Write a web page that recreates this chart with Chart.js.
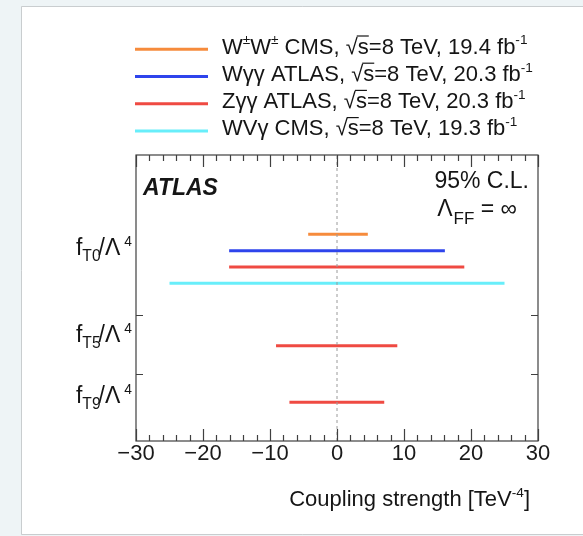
<!DOCTYPE html>
<html><head><meta charset="utf-8">
<script src="https://cdn.jsdelivr.net/npm/chart.js@4/dist/chart.umd.min.js"></script>
<style>html,body{margin:0;padding:0;background:#eef4f6;overflow:hidden}</style>
</head><body>
<canvas id="c" width="583" height="536"></canvas>
<script>
// ---------------- DATA ----------------
const xMin = -30, xMax = 30;
const xTickStep = 10, xMinorStep = 2;
const operatorSubs = ['T0', 'T5', 'T9'];          // f_{T0}/Λ^4 ...
const operatorPower = '4';
const seriesProcess = ['W±W±', 'Wγγ', 'Zγγ', 'WVγ'];
const seriesExperiment = ['CMS', 'ATLAS', 'ATLAS', 'CMS'];
const seriesEnergy = ['8', '8', '8', '8'];
const seriesLumi = ['19.4', '20.3', '20.3', '19.3'];
// 95% CL limits per operator (T0, T5, T9), TeV^-4
const wwLower  = [-4.3, null, null],  wwUpper  = [4.6, null, null];
const wyyLower = [-16.1, null, null], wyyUpper = [16.1, null, null];
const zyyLower = [-16.1, -9.1, -7.1], zyyUpper = [19.0, 9.0, 7.05];
const wvyLower = [-25.0, null, null], wvyUpper = [25.0, null, null];
const axisTitle = 'Coupling strength [TeV';
const axisTitlePower = '-4';
const clText = '95% C.L.';

// ---------------- LAYOUT / STYLE ----------------
const lowers = [wwLower, wyyLower, zyyLower, wvyLower];
const uppers = [wwUpper, wyyUpper, zyyUpper, wvyUpper];
const colors = ['#f68b3c', '#2e44ec', '#ef4a42', '#68eefa'];
const rowBase = [2.53, 1.48, 0.53];     // vertical slot of each operator row (y-scale units)
const rowStep = 0.275;
const labelY = [3.01, 1.55, 0.52];
const yMin = -0.121, yMax = 4.689;
const FONT = '"Liberation Sans", Arial, Helvetica, sans-serif';
const TXT = '#151515';

const datasets = [];
operatorSubs.forEach((op, oi) => {
  const present = [];
  lowers.forEach((lo, si) => { if (lo[oi] !== null) present.push(si); });
  present.forEach((si, k) => {
    const y = rowBase[oi] + (present.length - 1 - k) * rowStep;
    datasets.push({
      data: [{x: lowers[si][oi], y}, {x: uppers[si][oi], y}],
      borderColor: colors[si], borderWidth: 3, borderCapStyle: 'butt',
      pointRadius: 0, showLine: true, order: 1
    });
  });
});
datasets.push({
  data: [{x: 0, y: yMin}, {x: 0, y: yMax}],
  borderColor: '#9a9a9a', borderWidth: 1, borderDash: [3, 3],
  pointRadius: 0, showLine: true, order: 0
});

function fnt(size, style) { return (style || '') + ' ' + size + 'px ' + FONT; }
function drawRuns(ctx, runs, x, y, size, align, style) {
  const items = runs.map(r => {
    const s = size * (r.k || ((r.sup || r.sub) ? 0.62 : 1));
    ctx.font = fnt(s, style);
    return {r, s, w: ctx.measureText(r.t).width + (r.dx || 0)};
  });
  const total = items.reduce((a, b) => a + b.w, 0);
  let cx = align === 'right' ? x - total : x;
  ctx.textBaseline = 'alphabetic'; ctx.textAlign = 'left';
  for (const it of items) {
    const r = it.r;
    ctx.font = fnt(it.s, style);
    const dy = r.dy !== undefined ? r.dy : (r.sup ? -size * 0.42 : r.sub ? size * 0.24 : 0);
    ctx.fillText(r.t, cx + (r.pre || 0), y + dy);
    if (r.over) {
      ctx.save(); ctx.strokeStyle = ctx.fillStyle; ctx.lineWidth = 1.2;
      ctx.beginPath(); ctx.moveTo(cx - 1, y - size * 0.8); ctx.lineTo(cx + it.w, y - size * 0.8); ctx.stroke();
      ctx.restore();
    }
    cx += it.w;
  }
}
function processRuns(p) {
  const out = [];
  for (const ch of p) out.push(ch === '±' ? {t: ch, sup: true} : {t: ch});
  return out;
}

const decor = {
  id: 'decor',
  beforeDraw(chart) {
    const {ctx, width, height} = chart;
    ctx.save();
    ctx.fillStyle = '#eef4f6'; ctx.fillRect(0, 0, width, height);
    ctx.fillStyle = '#ffffff'; ctx.fillRect(22, 7, width - 22, height - 9);
    ctx.strokeStyle = '#c9cdcf'; ctx.lineWidth = 1;
    ctx.beginPath();
    ctx.moveTo(21.5, height - 1.5); ctx.lineTo(21.5, 6.5); ctx.lineTo(width, 6.5);
    ctx.moveTo(21.5, height - 1.5); ctx.lineTo(width, height - 1.5);
    ctx.stroke();
    ctx.restore();
  },
  afterDraw(chart) {
    const {ctx} = chart;
    const {left, right, top, bottom} = chart.chartArea;
    const xs = chart.scales.x, ys = chart.scales.y;
    ctx.save();
    // frame
    ctx.strokeStyle = '#404040'; ctx.lineWidth = 1.2;
    ctx.strokeRect(left, top, right - left, bottom - top);
    // x ticks (inward, bottom and top)
    ctx.beginPath();
    for (let v = xMin; v <= xMax + 1e-9; v += xMinorStep) {
      const px = Math.round(xs.getPixelForValue(v)) + 0.5;
      const L = (Math.abs(v % xTickStep) < 1e-9) ? 12 : 6;
      ctx.moveTo(px, bottom); ctx.lineTo(px, bottom - L);
      ctx.moveTo(px, top); ctx.lineTo(px, top + L);
    }
    // y ticks at row boundaries
    [1, 2].forEach(v => {
      const py = Math.round(ys.getPixelForValue(v)) + 0.5;
      ctx.moveTo(left, py); ctx.lineTo(left + 7, py);
      ctx.moveTo(right, py); ctx.lineTo(right - 7, py);
    });
    ctx.stroke();

    ctx.fillStyle = TXT;
    // operator labels
    operatorSubs.forEach((op, oi) => {
      const py = ys.getPixelForValue(labelY[oi]);
      drawRuns(ctx, [
        {t: 'f'}, {t: op, k: 0.68, dy: 6, dx: -2}, {t: '/'},
        {t: 'Λ', k: 1.0, dx: 4}, {t: operatorPower, k: 0.6, dy: -9}
      ], 132, py, 23, 'right');
    });
    // ATLAS
    ctx.font = fnt(23, 'italic bold'); ctx.textAlign = 'left'; ctx.textBaseline = 'alphabetic';
    ctx.fillText('ATLAS', left + 7, top + 40);
    // CL
    drawRuns(ctx, [{t: clText}], right - 9, top + 33, 23, 'right');
    drawRuns(ctx, [{t: 'Λ', dx: 1}, {t: 'FF', k: 0.74, dy: 8}, {t: ' = ∞'}], right - 21, top + 61, 23, 'right');
    // axis title
    drawRuns(ctx, [{t: axisTitle}, {t: axisTitlePower, sup: true}, {t: ']'}], right - 8, bottom + 65, 22, 'right');
    // legend
    seriesProcess.forEach((p, i) => {
      const ly = 49.3 + i * 27.2;
      ctx.strokeStyle = colors[i]; ctx.lineWidth = 3; ctx.lineCap = 'butt';
      ctx.beginPath(); ctx.moveTo(135, ly); ctx.lineTo(208, ly); ctx.stroke();
      ctx.fillStyle = TXT;
      const runs = processRuns(p).concat([
        {t: ' ' + seriesExperiment[i] + ', '}, {t: '√'}, {t: 's', over: true},
        {t: '=' + seriesEnergy[i] + ' TeV, ' + seriesLumi[i] + ' fb'}, {t: '-1', sup: true}
      ]);
      drawRuns(ctx, runs, 222, ly + 4.3, 22, 'left');
    });
    ctx.restore();
  }
};

new Chart(document.getElementById('c'), {
  type: 'scatter',
  data: {datasets},
  options: {
    responsive: false, animation: false, devicePixelRatio: 1,
    layout: {padding: {left: 136, right: 45, top: 155, bottom: 0}},
    plugins: {legend: {display: false}, tooltip: {enabled: false}},
    scales: {
      x: {
        type: 'linear', min: xMin, max: xMax,
        afterFit(s) { s.height = 95; },
        grid: {display: false}, border: {display: false},
        ticks: {
          stepSize: xTickStep, padding: -8, color: '#1a1a1a',
          font: {family: FONT, size: 22},
          callback: v => (v < 0 ? '\u2212' + Math.abs(v) : String(v))
        }
      },
      y: {type: 'linear', min: yMin, max: yMax, display: false}
    }
  },
  plugins: [decor]
});
</script>
</body></html>
